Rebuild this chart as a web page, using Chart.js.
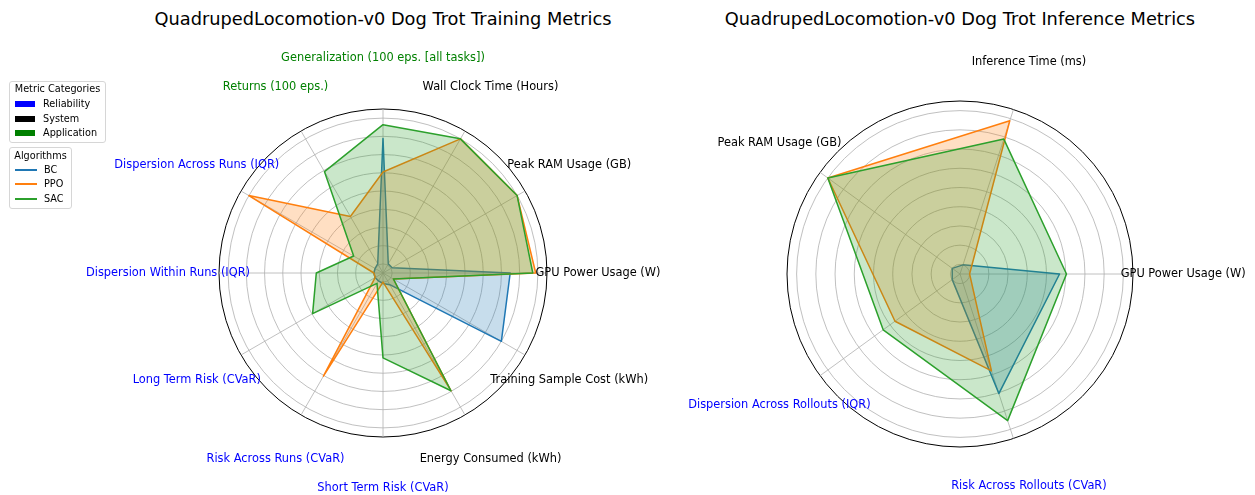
<!DOCTYPE html>
<html>
<head>
<meta charset="utf-8">
<script src="https://cdn.jsdelivr.net/npm/chart.js@4.4.1/dist/chart.umd.min.js"></script>
<style>
  body { margin: 0; background: #fff; width: 1255px; height: 495px; position: relative; overflow: hidden; font-family: "DejaVu Sans", sans-serif; }
  canvas { position: absolute; top: 0; }
  .title { position: absolute; top: 8px; width: 640px; font-size: 17.8px; line-height: 22px; text-align: center; white-space: nowrap; color: #000; }
  .legend { position: absolute; left: 9px; box-sizing: border-box; border: 1px solid #d6d6d6; border-radius: 3px; background: #fff; font-size: 9.7px; }
  .legend span { position: absolute; white-space: nowrap; line-height: 12px; }
</style>
</head>
<body>
<div class="title" style="left:63px">QuadrupedLocomotion-v0 Dog Trot Training Metrics</div>
<div class="title" style="left:640px">QuadrupedLocomotion-v0 Dog Trot Inference Metrics</div>
<canvas id="trainingChart" width="680" height="495" style="left:0px"></canvas>
<canvas id="inferenceChart" width="615" height="495" style="left:640px"></canvas>
<div class="legend" id="categoryLegend" style="top:81px;width:97px;height:62px"></div>
<div class="legend" id="algoLegend" style="top:147px;width:63px;height:62px"></div>

<script>
//// data (metric order counter-clockwise from the right)
const trainingMetrics = ['GPU Power Usage (W)', 'Peak RAM Usage (GB)', 'Wall Clock Time (Hours)',
  'Generalization (100 eps. [all tasks])', 'Returns (100 eps.)', 'Dispersion Across Runs (IQR)',
  'Dispersion Within Runs (IQR)', 'Long Term Risk (CVaR)', 'Risk Across Runs (CVaR)',
  'Short Term Risk (CVaR)', 'Energy Consumed (kWh)', 'Training Sample Cost (kWh)'];
const trainingCategories = ['System', 'System', 'System', 'Application', 'Application', 'Reliability',
  'Reliability', 'Reliability', 'Reliability', 'Reliability', 'System', 'System'];
const trainingBC  = [0.81, 0.01, 0.01, 0.86, 0.01, 0.0, 0.0, 0.0, 0.0, 0.01, 0.03, 0.875];
const trainingPPO = [0.985, 1.0, 1.0, 0.63, 0.385, 1.0, 0.0, 0.0, 0.755, 0.0, 0.87, 0.02];
const trainingSAC = [0.965, 1.0, 1.0, 0.955, 0.74, 0.17, 0.395, 0.495, 0.02, 0.52, 0.87, 0.02];

const inferenceMetrics = ['GPU Power Usage (W)', 'Inference Time (ms)', 'Peak RAM Usage (GB)',
  'Dispersion Across Rollouts (IQR)', 'Risk Across Rollouts (CVaR)'];
const inferenceCategories = ['System', 'System', 'System', 'Reliability', 'Reliability'];
const inferenceBC  = [0.585, 0.0, 0.0, 0.0, 0.755];
const inferencePPO = [0.0, 0.985, 1.0, 0.46, 0.6];
const inferenceSAC = [0.63, 0.86, 1.0, 0.555, 0.94];

const ringValues = [0, 0.125, 0.25, 0.375, 0.5, 0.625, 0.75, 0.875, 1];
const rMin = -0.0625;
const rMax = 1.0625;

const categoryNames = ['Reliability', 'System', 'Application'];
const categoryColors = ['#0000ff', '#000000', '#008000'];
const algorithms = ['BC', 'PPO', 'SAC'];
const algorithmColors = ['#1f77b4', '#ff7f0e', '#2ca02c'];
const algorithmFills = ['rgba(31,119,180,0.25)', 'rgba(255,127,14,0.25)', 'rgba(44,160,44,0.25)'];

//// helpers
// chart.js goes clockwise from the start angle, matplotlib went counter-clockwise
function toClockwise(arr) {
  return [arr[0]].concat(arr.slice(1).reverse());
}

function categoryColor(cat) {
  return categoryColors[categoryNames.indexOf(cat)];
}

const metricLabelPlugin = {
  id: 'metricLabels',
  afterDatasetsDraw(chart, args, opts) {
    const scale = chart.scales.r;
    const ctx = chart.ctx;
    ctx.save();
    ctx.font = '11.4px "DejaVu Sans"';
    ctx.textAlign = 'center';
    ctx.textBaseline = 'middle';
    chart.data.labels.forEach((label, i) => {
      const p = scale.getPointPosition(i, scale.drawingArea * opts.factor);
      ctx.fillStyle = opts.colors[i];
      ctx.fillText(label, p.x, p.y);
    });
    ctx.restore();
  }
};

function makeDataset(idx, values) {
  return {
    label: algorithms[idx],
    data: toClockwise(values),
    borderColor: algorithmColors[idx],
    backgroundColor: algorithmFills[idx],
    borderWidth: 1.5,
    borderJoinStyle: 'round',
    pointRadius: 0,
    pointHoverRadius: 0,
    fill: 'shape',
    tension: 0,
    order: 3 - idx
  };
}

function makeRadar(canvasId, metrics, categories, series, padding, factor) {
  new Chart(document.getElementById(canvasId), {
    type: 'radar',
    data: {
      labels: toClockwise(metrics),
      datasets: series.map((values, i) => makeDataset(i, values))
    },
    options: {
      responsive: false,
      animation: false,
      events: [],
      layout: { padding: padding },
      plugins: {
        legend: { display: false },
        tooltip: { enabled: false },
        metricLabels: { factor: factor, colors: toClockwise(categories).map(categoryColor) }
      },
      scales: {
        r: {
          min: rMin,
          max: rMax,
          startAngle: 90,
          afterBuildTicks: (s) => { s.ticks = ringValues.concat([rMax]).map(v => ({ value: v })); },
          ticks: { display: false },
          grid: {
            circular: true,
            color: (c) => (c.tick && c.tick.value >= rMax ? '#000000' : '#b0b0b0'),
            lineWidth: (c) => (c.tick && c.tick.value >= rMax ? 1 : 0.8)
          },
          angleLines: { color: '#b0b0b0', lineWidth: 0.8 },
          pointLabels: { display: false }
        }
      }
    },
    plugins: [metricLabelPlugin]
  });
}

function buildLegends() {
  const cat = document.getElementById('categoryLegend');
  let html = '<span style="left:0;width:95px;text-align:center;top:1px">Metric Categories</span>';
  categoryNames.forEach((name, i) => {
    const y = 22 + i * 14.5;
    html += `<span style="left:5px;top:${y - 3}px;width:20px;height:6px;background:${categoryColors[i]}"></span>`;
    html += `<span style="left:33px;top:${y - 6}px">${name}</span>`;
  });
  cat.innerHTML = html;

  const algo = document.getElementById('algoLegend');
  html = '<span style="left:0;width:61px;text-align:center;top:2px">Algorithms</span>';
  algorithms.forEach((name, i) => {
    const y = 21.5 + i * 14.5;
    html += `<span style="left:5px;top:${y - 1}px;width:22px;height:2px;background:${algorithmColors[i]}"></span>`;
    html += `<span style="left:34px;top:${y - 6}px">${name}</span>`;
  });
  algo.innerHTML = html;
}

//// draw
makeRadar('trainingChart', trainingMetrics, trainingCategories,
  [trainingBC, trainingPPO, trainingSAC],
  { left: 219, right: 133, top: 109, bottom: 58 }, 1.311);
makeRadar('inferenceChart', inferenceMetrics, inferenceCategories,
  [inferenceBC, inferencePPO, inferenceSAC],
  { left: 147, right: 122, top: 101, bottom: 48 }, 1.29);
buildLegends();
</script>
</body>
</html>
